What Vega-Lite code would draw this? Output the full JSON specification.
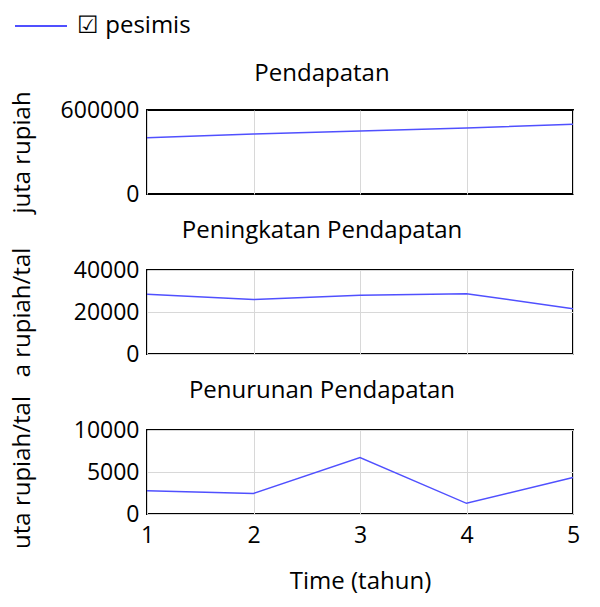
{
  "$schema": "https://vega.github.io/schema/vega-lite/v6.json",
  "background": "white",
  "padding": {"left": 9, "top": 14, "right": 26, "bottom": 10},
  "data": {"values": [
    {"t": 1, "series": "pesimis", "pendapatan": 401000, "peningkatan": 28400, "penurunan": 2760},
    {"t": 2, "series": "pesimis", "pendapatan": 428000, "peningkatan": 25900, "penurunan": 2450},
    {"t": 3, "series": "pesimis", "pendapatan": 450000, "peningkatan": 27950, "penurunan": 6720},
    {"t": 4, "series": "pesimis", "pendapatan": 471000, "peningkatan": 28700, "penurunan": 1270},
    {"t": 5, "series": "pesimis", "pendapatan": 499000, "peningkatan": 21600, "penurunan": 4350}
  ]},
  "bounds": "flush",
  "spacing": 76,
  "vconcat": [
    {
      "width": 426, "height": 84,
      "title": {"text": "Pendapatan", "frame": "group", "offset": 24, "dx": -38, "dy": 19},
      "mark": {"type": "line", "strokeWidth": 1.5},
      "encoding": {
        "x": {"field": "t", "type": "quantitative", "scale": {"domain": [1, 5], "nice": false, "zero": false},
              "axis": {"values": [1, 2, 3, 4, 5], "labels": false, "title": null, "grid": true}},
        "y": {"field": "pendapatan", "type": "quantitative", "scale": {"domain": [0, 600000], "nice": false},
              "axis": {"values": [0, 600000], "format": "d", "grid": false, "title": "juta rupiah", "titleX": -125, "titleY": 42, "titleAngle": -90, "titleAlign": "center", "titleBaseline": "middle"}},
        "color": {"field": "series", "type": "nominal", "scale": {"range": ["#5050ff"]},
                  "legend": {"orient": "none", "legendX": -118, "legendY": -96, "title": null, "symbolType": "M-4,0H4", "symbolSize": 169, "symbolStrokeWidth": 2, "labelFontSize": 24, "labelOffset": 24, "labelExpr": "'☑ ' + datum.label", "labelColor": "black",
                             "encode": {"symbols": {"update": {"stroke": {"value": "#1414f0"}}}}}}
      }
    },
    {
      "width": 426, "height": 84,
      "title": {"text": "Peningkatan Pendapatan", "frame": "group", "offset": 24, "dx": -38, "dy": 20},
      "mark": {"type": "line", "strokeWidth": 1.5},
      "encoding": {
        "x": {"field": "t", "type": "quantitative", "scale": {"domain": [1, 5], "nice": false, "zero": false},
              "axis": {"values": [1, 2, 3, 4, 5], "labels": false, "title": null, "grid": true}},
        "y": {"field": "peningkatan", "type": "quantitative", "scale": {"domain": [0, 40000], "nice": false},
              "axis": {"values": [0, 20000, 40000], "format": "d", "grid": true, "title": "a rupiah/tal", "titleX": -125, "titleY": 42, "titleAngle": -90, "titleAlign": "center", "titleBaseline": "middle"}},
        "color": {"field": "series", "type": "nominal"}
      }
    },
    {
      "width": 426, "height": 84,
      "title": {"text": "Penurunan Pendapatan", "frame": "group", "offset": 24, "dx": -38, "dy": 31},
      "mark": {"type": "line", "strokeWidth": 1.5},
      "encoding": {
        "x": {"field": "t", "type": "quantitative", "scale": {"domain": [1, 5], "nice": false, "zero": false},
              "axis": {"values": [1, 2, 3, 4, 5], "labelFlush": false, "labelPadding": 10, "format": "d", "title": "Time (tahun)", "titlePadding": 22, "grid": true}},
        "y": {"field": "penurunan", "type": "quantitative", "scale": {"domain": [0, 10000], "nice": false},
              "axis": {"values": [0, 5000, 10000], "format": "d", "grid": true, "title": "uta rupiah/tal", "titleX": -125, "titleY": 42, "titleAngle": -90, "titleAlign": "center", "titleBaseline": "middle"}},
        "color": {"field": "series", "type": "nominal"}
      }
    }
  ],
  "config": {
    "font": "Open Sans",
    "view": {"stroke": "black", "strokeWidth": 2},
    "axis": {"labelFontSize": 23, "titleFontSize": 24, "labelColor": "black", "titleColor": "black", "titleFontWeight": "normal", "gridColor": "#d8d8d8", "ticks": false, "domain": false, "labelPadding": 8},
    "title": {"fontSize": 24, "fontWeight": "normal", "color": "black"}
  }
}
